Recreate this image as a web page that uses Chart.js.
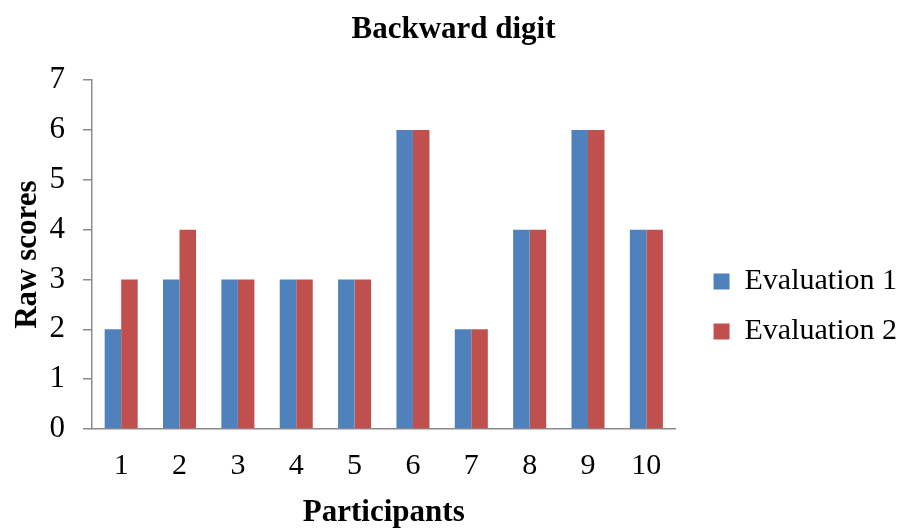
<!DOCTYPE html>
<html>
<head>
<meta charset="utf-8">
<script src="https://cdn.jsdelivr.net/npm/chart.js@4"></script>
<style>
  html, body { margin: 0; padding: 0; background: #fff; }
  #wrap { width: 907px; height: 528px; }
</style>
</head>
<body>
<div id="wrap"><canvas id="c" width="907" height="528"></canvas></div>
<script>
// Backward digit span raw scores for each participant
const participants = ['1', '2', '3', '4', '5', '6', '7', '8', '9', '10'];
const evaluation1 = [2, 3, 3, 3, 3, 6, 2, 4, 6, 4];
const evaluation2 = [3, 4, 3, 3, 3, 6, 2, 4, 6, 4];
const seriesNames = ['Evaluation 1', 'Evaluation 2'];
const yTicks = [0, 1, 2, 3, 4, 5, 6, 7];

const serif = "'Liberation Serif', 'Times New Roman', serif";
const axisGrey = '#8c8c8c';

Chart.defaults.color = '#000';
Chart.defaults.font.family = serif;

new Chart(document.getElementById('c'), {
  type: 'bar',
  data: {
    labels: participants,
    datasets: [
      { label: seriesNames[0], data: evaluation1, backgroundColor: '#4F81BD', borderWidth: 0 },
      { label: seriesNames[1], data: evaluation2, backgroundColor: '#C0504D', borderWidth: 0 }
    ]
  },
  options: {
    responsive: false,
    animation: false,
    layout: { padding: 0 },
    datasets: { bar: { categoryPercentage: 0.566, barPercentage: 1.0 } },
    plugins: {
      tooltip: { enabled: false },
      title: {
        display: true,
        text: 'Backward digit',
        font: { family: serif, size: 31, weight: 'bold', lineHeight: 1.2 },
        padding: { top: 11, bottom: 32 }
      },
      legend: {
        position: 'right',
        align: 'center',
        title: { display: true, text: '', font: { size: 10, lineHeight: 1.2 }, padding: { top: 73, bottom: 0 } },
        labels: {
          boxWidth: 16,
          boxHeight: 16,
          padding: 20,
          font: { family: serif, size: 30 }
        }
      }
    },
    scales: {
      x: {
        grid: { display: true, drawOnChartArea: false, drawTicks: false },
        border: { display: true, color: axisGrey, width: 1.5 },
        ticks: { padding: 19, font: { family: serif, size: 30 } },
        title: {
          display: true,
          text: 'Participants',
          font: { family: serif, size: 31, weight: 'bold', lineHeight: 0.95 },
          padding: { top: 7, bottom: 0 }
        },
        afterFit: (scale) => { scale.height = 99; }
      },
      y: {
        min: 0,
        max: 7,
        afterBuildTicks: (scale) => { scale.ticks = yTicks.map(v => ({ value: v })); },
        grid: { display: true, drawOnChartArea: false, drawTicks: true, tickLength: 9, color: axisGrey, lineWidth: 1.5 },
        border: { display: true, color: axisGrey, width: 1.5 },
        ticks: { padding: 18, font: { family: serif, size: 31 } },
        title: {
          display: true,
          text: 'Raw scores',
          font: { family: serif, size: 31, weight: 'bold', lineHeight: 1.2 },
          padding: { top: 9, bottom: 3 }
        },
        afterFit: (scale) => { scale.width = 92; }
      },
      // hidden spacer between the plot and the legend
      gap: {
        type: 'linear',
        position: 'right',
        display: false,
        afterFit: (scale) => { scale.width = 18; }
      }
    }
  }
});
</script>
</body>
</html>
